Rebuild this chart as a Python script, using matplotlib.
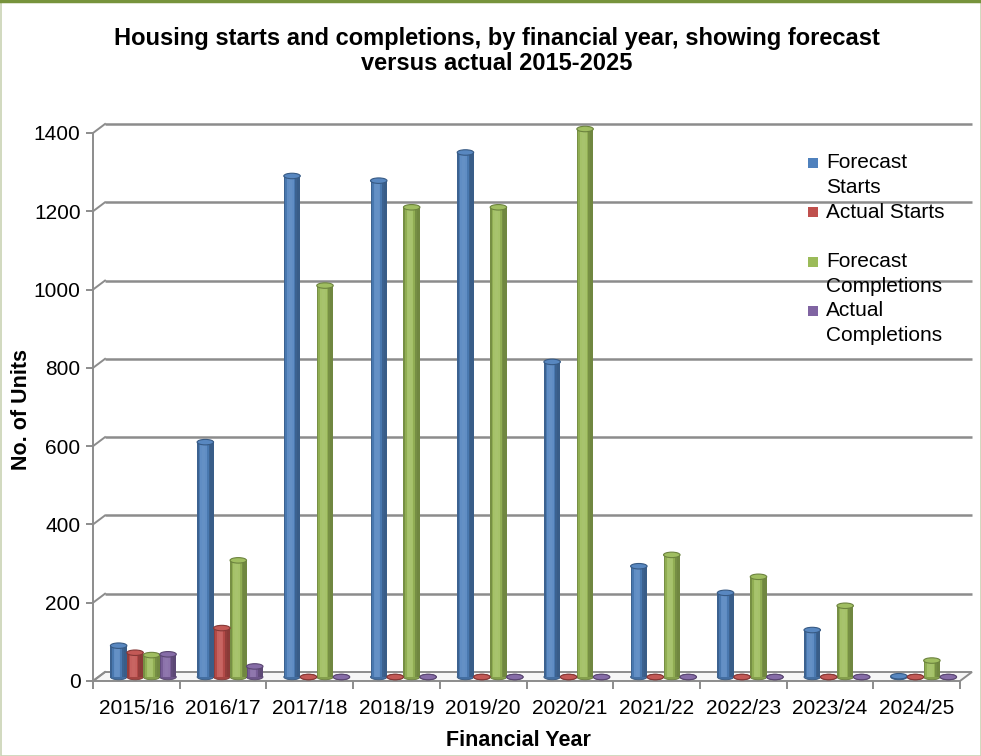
import numpy as np
import matplotlib
matplotlib.use("Agg")
import matplotlib.pyplot as plt
from matplotlib.patches import Ellipse, Rectangle, Polygon
from matplotlib.lines import Line2D
from matplotlib.transforms import ScaledTranslation, IdentityTransform
from matplotlib.colors import to_rgb

plt.rcParams['font.family'] = ['Liberation Sans', 'DejaVu Sans']

years = ['2015/16', '2016/17', '2017/18', '2018/19', '2019/20',
         '2020/21', '2021/22', '2022/23', '2023/24', '2024/25']
forecast_starts = [80, 600, 1280, 1268, 1340, 805, 283, 215, 120, 2]
actual_starts = [62, 125, 0, 0, 0, 0, 0, 0, 0, 0]
forecast_completions = [56, 298, 1000, 1200, 1200, 1400, 312, 256, 182, 42]
actual_completions = [58, 27, 0, 0, 0, 0, 0, 0, 0, 0]
series_names = ['Forecast\nStarts', 'Actual Starts', 'Forecast\nCompletions', 'Actual\nCompletions']
colors = ['#4F81BD', '#C0504D', '#9BBB59', '#8064A2']
yticks = [0, 200, 400, 600, 800, 1000, 1200, 1400]

W, H = 981, 756
fig = plt.figure(figsize=(W / 100, H / 100), dpi=100)
fig.patch.set_facecolor('white')

# front plane of the 3D-style chart
x0, x1, y0, y1 = 93, 960, 681, 133
ax = fig.add_axes([x0 / W, 1 - y0 / H, (x1 - x0) / W, (y0 - y1) / H])
ax.set_xlim(-0.5, 9.5)
ax.set_ylim(0, 1400)
ax.patch.set_alpha(0)

grid_c = '#8C8C8C'
back = ax.transData + ScaledTranslation(12 / 100, 9 / 100, fig.dpi_scale_trans)
mid = ax.transData + ScaledTranslation(7 / 100, 4 / 100, fig.dpi_scale_trans)
pix = IdentityTransform()

# back wall gridlines
ax.hlines(yticks[1:], -0.5, 9.5, colors=grid_c, lw=1.8, transform=back, clip_on=False, zorder=1)

# floor
fl = [ax.transData.transform((-0.5, 0)), ax.transData.transform((9.5, 0)),
      back.transform((9.5, 0)), back.transform((-0.5, 0))]
ax.add_patch(Polygon(fl, closed=True, transform=pix, facecolor='#F6F6F6',
                     edgecolor=grid_c, lw=1.4, zorder=0.5, clip_on=False))
# diagonals from front ticks to back wall
for v in yticks:
    p = ax.transData.transform((-0.5, v))
    q = back.transform((-0.5, v))
    ax.add_line(Line2D([p[0], q[0]], [p[1], q[1]], transform=pix, color=grid_c, lw=1.4,
                       clip_on=False, zorder=1))

for s in ['top', 'right']:
    ax.spines[s].set_visible(False)
ax.spines['left'].set_color(grid_c)
ax.spines['left'].set_linewidth(1.4)
ax.spines['bottom'].set_visible(False)

ax.set_yticks(yticks)
ax.tick_params(axis='y', length=5, width=1.4, color=grid_c, labelsize=15, pad=4)
ax.set_xticks(np.arange(len(years)))
ax.set_xticklabels(years)
ax.set_xticks(np.arange(-0.5, len(years)), minor=True)
ax.tick_params(axis='x', which='major', length=0, labelsize=15, pad=13)
ax.tick_params(axis='x', which='minor', length=6, width=1.4, color=grid_c)


def shade(c, f):
    c = np.array(to_rgb(c))
    if f >= 1:
        return tuple(c + (1 - c) * (f - 1))
    return tuple(c * f)


w = 0.19
n_strip = 10
ell_h = 14
data = [forecast_starts, actual_starts, forecast_completions, actual_completions]
x = np.arange(len(years))
for i, (vals, c) in enumerate(zip(data, colors)):
    off = (i - 1.5) * w
    vals = np.array(vals)
    for k in range(n_strip):
        t = (k + 0.5) / n_strip
        f = 0.72 + 0.5 * np.sin(np.pi * min(t / 0.8, 1.0)) ** 1.5 * (1 if t < 0.8 else 0.6)
        ax.bar(x + off - w / 2 + t * w, vals, width=w / n_strip, color=shade(c, min(f, 1.12)),
               linewidth=0, transform=mid, zorder=3, clip_on=False)
    for xi, v in zip(x, vals):
        ax.add_patch(Ellipse((xi + off, 0), w, ell_h, facecolor=shade(c, 0.85),
                             edgecolor=shade(c, 0.65), lw=0.6, transform=mid, zorder=2.9,
                             clip_on=False))
        ax.add_patch(Ellipse((xi + off, v), w, ell_h, facecolor=shade(c, 1.05),
                             edgecolor=shade(c, 0.7), lw=0.8, transform=mid, zorder=4,
                             clip_on=False))

fig.text(22 / W, 1 - 410 / H, 'No. of Units', rotation=90, ha='center', va='center',
         fontsize=15.5, fontweight='bold')
fig.text(497 / W, 1 - 38 / H, 'Housing starts and completions, by financial year, showing forecast',
         ha='center', va='center', fontsize=17, fontweight='bold')
fig.text(497 / W, 1 - 63 / H, 'versus actual 2015-2025',
         ha='center', va='center', fontsize=17, fontweight='bold')
fig.text(518 / W, 1 - 740 / H, 'Financial Year', ha='center', va='center',
         fontsize=15.5, fontweight='bold')

# legend
leg_rows = [163, 212, 262, 311]
for name, c, yr in zip(series_names, colors, leg_rows):
    fig.patches.append(Rectangle((808 / W, 1 - (yr + 5) / H), 10 / W, 10 / H,
                                 transform=fig.transFigure, facecolor=c, edgecolor='none'))
    for j, line in enumerate(name.split('\n')):
        fig.text(826 / W, 1 - (yr + 24.5 * j) / H, line, ha='left', va='center', fontsize=15)

# chart frame
fig.patches.append(Rectangle((0.5 / W, 0.5 / H), (W - 1) / W, (H - 1) / H, transform=fig.transFigure,
                             facecolor='none', edgecolor='#C9D3B4', lw=1.2))
fig.lines.append(Line2D([0, 1], [1 - 1 / H, 1 - 1 / H], transform=fig.transFigure,
                        color='#77933C', lw=2.5))

fig.savefig('out.png', dpi=100)
